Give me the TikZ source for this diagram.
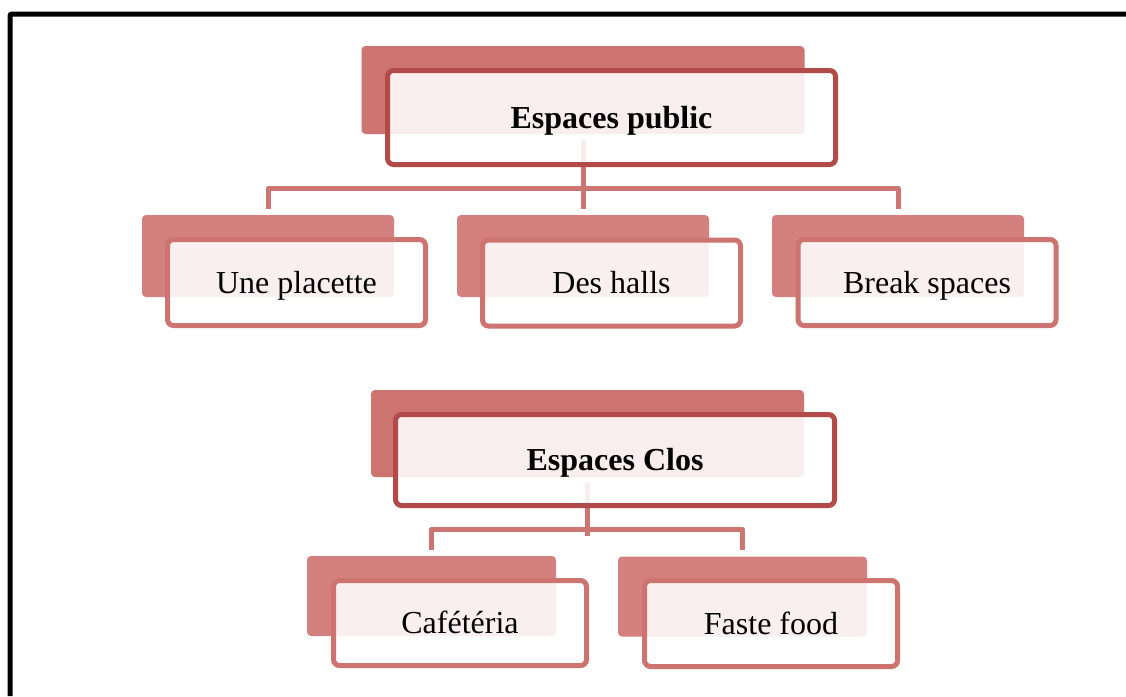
\documentclass[tikz,border=0pt]{standalone}
\usepackage{fontspec}
\setmainfont{Liberation Serif}
\definecolor{backP}{RGB}{205,116,112}
\definecolor{backC}{RGB}{212,128,126}
\definecolor{bordP}{RGB}{178,75,71}
\definecolor{bordC}{RGB}{205,115,112}
\definecolor{connC}{RGB}{205,117,113}
\tikzset{
  backbox/.style={rectangle, rounded corners=4pt, fill=#1, draw=none, inner sep=0pt},
  frontbox/.style={rectangle, rounded corners=6pt, draw=#1, line width=5pt, fill=white, fill opacity=0.88, text opacity=1, inner sep=0pt, text height=21pt, text depth=0pt, font=\fontsize{32pt}{38pt}\selectfont},
  conn/.style={draw=connC, line width=5pt, line join=round},
  frame/.style={draw=black, line width=5pt, rounded corners=2pt}
}
\begin{document}
\begin{tikzpicture}[x=1pt,y=-1pt]
\useasboundingbox (0,0) rectangle (1126,696);
\fill[white] (0,0) rectangle (1126,696);
\draw[frame] (10,696) -- (10,14) -- (1126,14);

% ---- top group ----
\node[backbox=backP, minimum width=443pt, minimum height=88pt] (pb) at (583,90) {};
\node[backbox=backC, minimum width=252pt, minimum height=82pt] (c1b) at (268,256) {};
\node[backbox=backC, minimum width=252pt, minimum height=82pt] (c2b) at (583,256) {};
\node[backbox=backC, minimum width=252pt, minimum height=82pt] (c3b) at (898,256) {};

\draw[conn] ([yshift=-6pt]pb.south) -- ([yshift=6pt]pb.south |- c2b.north);
\draw[conn] ([yshift=6pt]c1b.north) -- ++(0,-20.5) -| ([yshift=6pt]c3b.north);

\node[frontbox=bordP, minimum width=448pt, minimum height=94pt, font=\fontsize{32pt}{38pt}\selectfont\bfseries] (pf) at (611.5,117.5) {Espaces public};
\node[frontbox=bordC, minimum width=258pt, minimum height=86pt] (c1f) at (296.5,282.5) {Une placette};
\node[frontbox=bordC, minimum width=258pt, minimum height=86pt] (c2f) at (611.5,283) {Des halls};
\node[frontbox=bordC, minimum width=258pt, minimum height=86pt] (c3f) at (927,282.5) {Break spaces};

% ---- bottom group ----
\node[backbox=backP, minimum width=433pt, minimum height=87pt] (qb) at (587.5,433.5) {};
\node[backbox=backC, minimum width=249pt, minimum height=80pt] (d1b) at (431.5,596) {};
\node[backbox=backC, minimum width=249pt, minimum height=80pt] (d2b) at (742.5,596.5) {};

\draw[conn] ([yshift=-6pt]qb.south) -- ([yshift=-6pt]qb.south |- 0,530);
\draw[conn] ([yshift=6pt]d1b.north) -- ++(0,-20) -| ([yshift=6pt]d2b.north);

\node[frontbox=bordP, minimum width=439pt, minimum height=91pt, font=\fontsize{32pt}{38pt}\selectfont\bfseries] (qf) at (615,460) {Espaces Clos};
\node[frontbox=bordC, minimum width=253pt, minimum height=85pt] (d1f) at (460,623) {Cafétéria};
\node[frontbox=bordC, minimum width=253pt, minimum height=86pt] (d2f) at (771,623.5) {Faste food};
\end{tikzpicture}
\end{document}
